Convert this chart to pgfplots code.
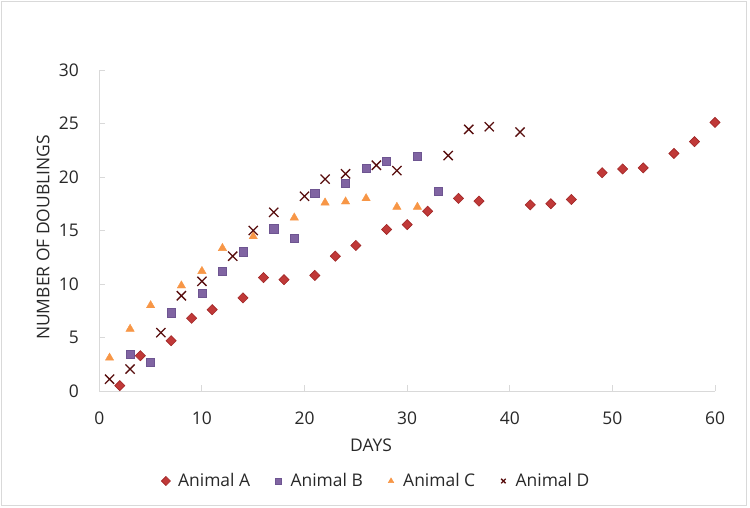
\documentclass[border=0pt]{standalone}
\usepackage{pgfplots}
\pgfplotsset{compat=1.18}
\usepackage{pgfplotstable}
\usepackage{fontspec}
\setmainfont{Open Sans}
\definecolor{cA}{RGB}{192,57,56}
\definecolor{cAe}{RGB}{160,38,38}
\definecolor{cB}{RGB}{128,100,162}
\definecolor{cBe}{RGB}{110,85,145}
\definecolor{cC}{RGB}{247,150,70}
\definecolor{cD}{RGB}{88,14,14}
\definecolor{axg}{RGB}{217,217,217}
\definecolor{txt}{RGB}{40,40,40}
\newcommand\cfont{\fontsize{17.5}{21}\selectfont}

\pgfplotstableread{
x y
2 0.5
4 3.3
7 4.7
9 6.8
11 7.6
14 8.7
16 10.6
18 10.4
21 10.8
23 12.6
25 13.6
28 15.1
30 15.55
32 16.8
35 18.0
37 17.75
42 17.4
44 17.5
46 17.9
49 20.4
51 20.75
53 20.85
56 22.2
58 23.3
60 25.1
}\tA
\pgfplotstableread{
x y
3 3.4
5 2.7
7 7.3
10 9.1
12 11.2
14 13.0
17 15.15
19 14.3
21 18.5
24 19.4
26 20.8
28 21.5
31 21.9
33 18.65
}\tB
\pgfplotstableread{
x y
1 3.1
3 5.8
5 8.0
8 9.85
10 11.2
12 13.35
15 14.45
19 16.2
22 17.6
24 17.7
26 18.0
29 17.2
31 17.2
}\tC
\pgfplotstableread{
x y
1 1.1
3 2.05
6 5.45
8 8.9
10 10.25
13 12.6
15 15.0
17 16.7
20 18.2
22 19.8
24 20.3
27 21.1
29 20.6
34 22.0
36 24.45
38 24.7
41 24.2
}\tD

\begin{document}
\begin{tikzpicture}
\useasboundingbox (0bp,0bp) rectangle (750bp,508bp);
\draw[axg, line width=0.9bp] (1bp,2.5bp) rectangle (746bp,507bp);
\begin{axis}[
  at={(99.3bp,117bp)}, anchor=south west,
  scale only axis, width=615.7bp, height=321bp,
  xmin=0, xmax=60, ymin=0, ymax=30,
  xtick={0,10,...,60}, ytick={0,5,...,30},
  axis lines=left,
  axis line style={-, draw=axg, line width=0.9bp},
  tick align=inside,
  major tick length=6bp,
  tick style={draw=axg, line width=0.9bp},
  /pgf/number format/assume math mode=true,
  tick label style={font=\cfont, text=txt},
  xticklabel style={anchor=base, inner sep=0pt, yshift=-33.7bp},
  yticklabel style={anchor=east, inner sep=0pt, xshift=-20.3bp},
  xlabel={DAYS},
  ylabel={NUMBER OF DOUBLINGS},
  label style={font=\cfont, text=txt, inner sep=0pt},
  xlabel style={at={(axis description cs:0.4413,-0.1682)}, anchor=center},
  ylabel style={at={(axis description cs:-0.0914,0.478)}, anchor=center},
  clip=false,
  legend columns=4,
  legend image code/.code={%
    \path (0bp,0bp) (12bp,0bp);
    \draw[#1,mark size=3.2bp] plot coordinates {(6bp,0bp)};},
  legend style={at={(axis description cs:0.447,-0.2804)}, anchor=center,
    draw=none, fill=none, font=\cfont, text=txt,
    nodes={inner sep=0bp},
    /tikz/every odd column/.append style={column sep=6bp},
    /tikz/every even column/.append style={column sep=22bp}},
]
\addplot[only marks, mark=square*, mark size=3.6bp,
  mark options={rotate=45, fill=cA, draw=cAe, line width=0.6bp}] table {\tA};
\addlegendentry{Animal A}
\addplot[only marks, mark=square*, mark size=4.1bp,
  mark options={fill=cB, draw=cBe, line width=0.6bp}] table {\tB};
\addlegendentry{Animal B}
\addplot[only marks, mark=triangle*, mark size=4.8bp,
  mark options={fill=cC, draw=cC, line width=0.4bp}] table {\tC};
\addlegendentry{Animal C}
\addplot[only marks, mark=x, mark size=6.5bp,
  mark options={draw=cD, line width=1.3bp}] table {\tD};
\addlegendentry{Animal D}
\end{axis}
\end{tikzpicture}
\end{document}
